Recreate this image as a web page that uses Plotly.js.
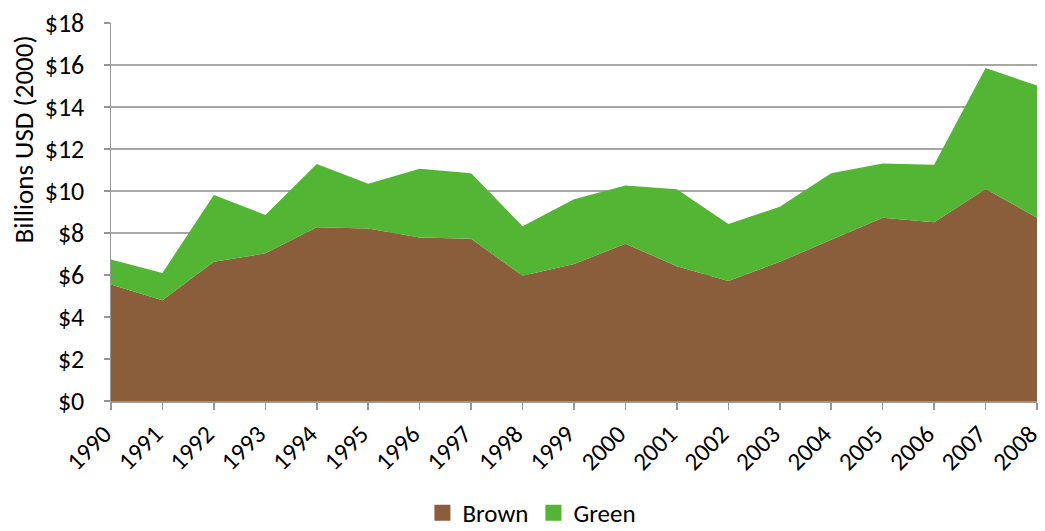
<!DOCTYPE html>
<html>
<head>
<meta charset="utf-8">
<script src="https://cdn.plot.ly/plotly-3.0.1.min.js"></script>
<style>
  html, body { margin: 0; padding: 0; background: #ffffff; }
  #chart { width: 1045px; height: 531px; }
</style>
</head>
<body>
<div id="chart"></div>
<script>
// Annual investment, billions of USD (2000)
const years = ['1990','1991','1992','1993','1994','1995','1996','1997','1998','1999',
               '2000','2001','2002','2003','2004','2005','2006','2007','2008'];
const brown = [5.55, 4.80, 6.63, 7.03, 8.27, 8.21, 7.78, 7.73, 5.96, 6.52,
               7.49, 6.42, 5.72, 6.63, 7.68, 8.73, 8.51, 10.10, 8.73];
const green = [1.19, 1.30, 3.18, 1.83, 3.01, 2.14, 3.28, 3.12, 2.36, 3.09,
               2.77, 3.66, 2.71, 2.62, 3.17, 2.58, 2.74, 5.76, 6.29];
const yTicks = [0, 2, 4, 6, 8, 10, 12, 14, 16, 18];
const yTickText = yTicks.map(v => '$' + v);
const yTitle = 'Billions USD (2000)';

const BROWN = '#8B5E3B';
const GREEN = '#52B534';
const fontFamily = 'Carlito, Lato, "Liberation Sans", sans-serif';

const traces = [
  {
    name: 'Brown', x: years, y: brown, type: 'scatter', mode: 'lines',
    stackgroup: 'one', line: { width: 0, color: BROWN },
    fillcolor: BROWN, showlegend: false
  },
  {
    name: 'Green', x: years, y: green, type: 'scatter', mode: 'lines',
    stackgroup: 'one', line: { width: 0, color: GREEN },
    fillcolor: GREEN, showlegend: false
  },
  // square legend keys for the two series
  {
    name: 'Brown', x: [null], y: [null], type: 'scatter', mode: 'markers',
    marker: { symbol: 'square', size: 16, color: BROWN }, showlegend: true
  },
  {
    name: 'Green', x: [null], y: [null], type: 'scatter', mode: 'markers',
    marker: { symbol: 'square', size: 16, color: GREEN }, showlegend: true
  }
];

const layout = {
  width: 1045, height: 531,
  margin: { l: 111, r: 8, t: 23, b: 130 },
  paper_bgcolor: '#ffffff', plot_bgcolor: '#ffffff',
  font: { family: fontFamily, size: 26, color: '#000000' },
  showlegend: true,
  legend: {
    orientation: 'h', xref: 'container', yref: 'container',
    x: 0.509, xanchor: 'center', y: 0.034, yanchor: 'middle',
    font: { family: fontFamily, size: 25, color: '#000000' },
    itemwidth: 30, traceorder: 'normal', tracegroupgap: 0
  },
  xaxis: {
    type: 'category', range: [0, years.length - 1],
    showgrid: false, zeroline: false,
    showline: true, linecolor: '#969696', linewidth: 1.5,
    ticks: 'outside', ticklen: 7, tickcolor: '#969696', tickwidth: 1.5,
    tickangle: -45, tickfont: { family: fontFamily, size: 25 },
    ticklabelshift: -7,
    fixedrange: true
  },
  yaxis: {
    range: [0, 18], tickvals: yTicks, ticktext: yTickText,
    showgrid: true, gridcolor: '#a6a6a6', gridwidth: 1.5,
    zeroline: false, showline: true, linecolor: '#969696', linewidth: 1.5,
    ticks: 'outside', ticklen: 6, tickcolor: '#969696', tickwidth: 1.5,
    ticklabelstandoff: 14,
    tickfont: { family: fontFamily, size: 26 },
    fixedrange: true
  },
  // axis caption, set a little above the middle of the value axis
  annotations: [{
    text: yTitle, textangle: -90, showarrow: false,
    xref: 'paper', yref: 'paper', x: -0.095, y: 0.692,
    xanchor: 'center', yanchor: 'middle',
    font: { family: fontFamily, size: 27, color: '#000000' }
  }]
};

Plotly.newPlot('chart', traces, layout, { displayModeBar: false, staticPlot: true });
</script>
</body>
</html>
